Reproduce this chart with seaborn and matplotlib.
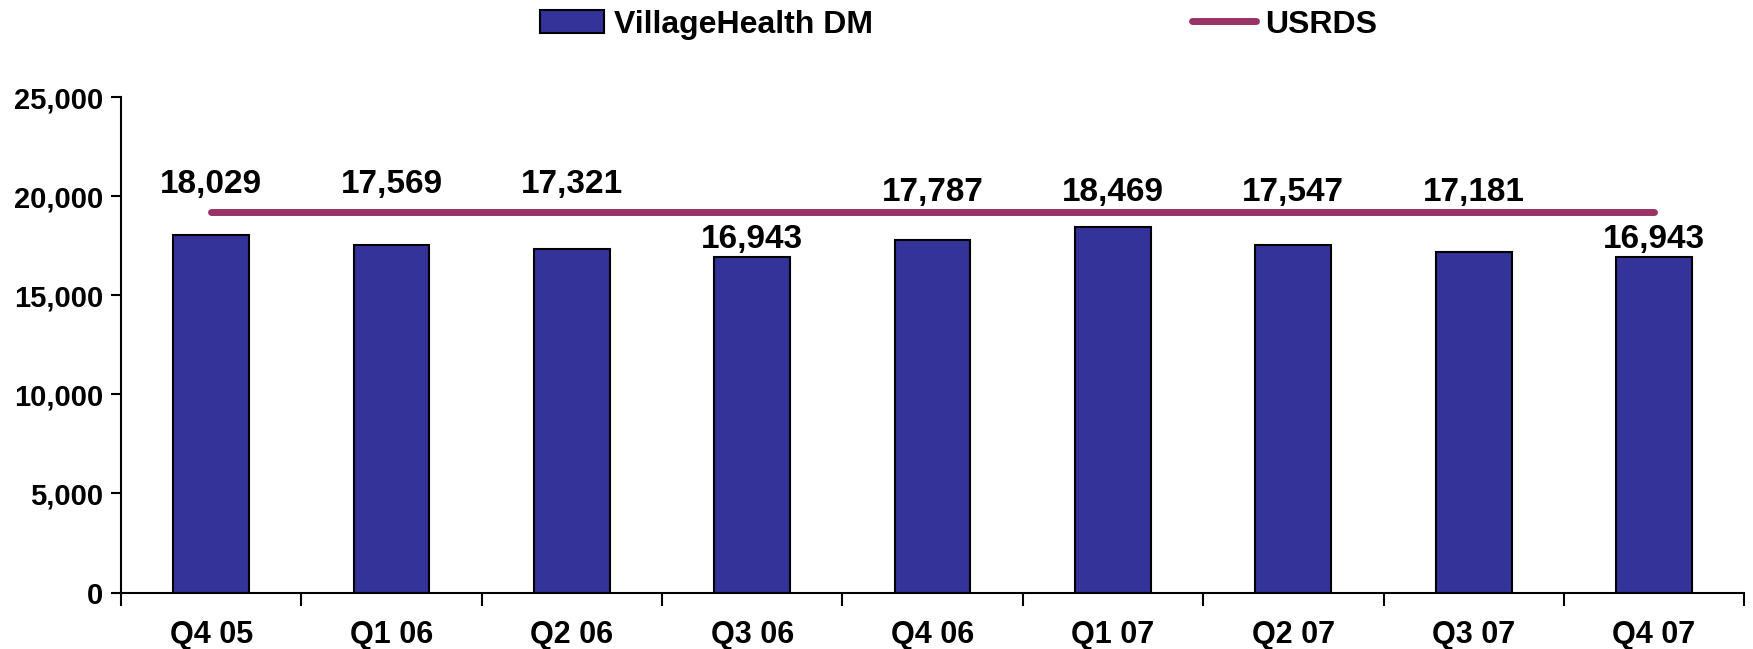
import numpy as np
import pandas as pd
import matplotlib
matplotlib.use("Agg")
import matplotlib.pyplot as plt
import seaborn as sns
from matplotlib.lines import Line2D
from matplotlib.patches import Patch

quarters = ["Q4 05", "Q1 06", "Q2 06", "Q3 06", "Q4 06", "Q1 07", "Q2 07", "Q3 07", "Q4 07"]
village_dm = [18029, 17569, 17321, 16943, 17787, 18469, 17547, 17181, 16943]
usrds = [19187, 19187, 19187, 19187, 19187, 19187, 19187, 19187, 19187]
y_ticks = [0, 5000, 10000, 15000, 20000, 25000]

bar_color = "#333399"
line_color = "#993366"

sns.set_style("white")
plt.rcParams["font.family"] = ["Liberation Sans Narrow", "Liberation Sans", "DejaVu Sans"]
plt.rcParams["font.weight"] = "bold"
plt.rcParams["text.color"] = "black"
plt.rcParams["xtick.color"] = "black"
plt.rcParams["ytick.color"] = "black"

df = pd.DataFrame({"quarter": quarters, "dm": village_dm, "usrds": usrds})

fig = plt.figure(figsize=(17.53, 6.49), dpi=100)
ax = fig.add_axes([0.069, 0.087, 0.926, 0.763])

sns.barplot(data=df, x="quarter", y="dm", color=bar_color, width=0.42,
            edgecolor="black", linewidth=1.5, saturation=1, ax=ax)
ax.plot(np.arange(len(quarters)), df["usrds"], color=line_color, lw=5,
        solid_capstyle="round", zorder=3)

# value labels: above the USRDS line when the bar is close to it, else just above the bar
for i, v in enumerate(village_dm):
    if v >= 17000:
        y = usrds[i] + (1400 if i < 3 else 1000)
    else:
        y = v + 900
    ax.text(i, y, f"{v:,}", ha="center", va="center", fontsize=24,
            fontweight="bold", color="black")

ax.set_xlim(-0.5, len(quarters) - 0.5)
ax.set_ylim(0, 25000)
ax.set_yticks(y_ticks)
ax.set_yticklabels([f"{t:,}" for t in y_ticks], fontsize=21, fontweight="bold")
ax.set_xticks(np.arange(len(quarters)))
ax.set_xticklabels(quarters, fontsize=22, fontweight="bold")
ax.set_xticks(np.arange(-0.5, len(quarters), 1), minor=True)
ax.tick_params(axis="x", which="major", bottom=True, length=0, pad=20)
ax.tick_params(axis="x", which="minor", bottom=True, length=9, width=1.5,
               direction="out", color="black")
ax.tick_params(axis="y", left=True, length=7, width=1.5, direction="out",
               color="black", pad=6)
ax.set_xlabel("")
ax.set_ylabel("")

sns.despine(ax=ax)
for s in ["left", "bottom"]:
    ax.spines[s].set_color("black")
    ax.spines[s].set_linewidth(1.5)

handles = [Patch(facecolor=bar_color, edgecolor="black", linewidth=1.5),
           Line2D([0], [0], color=line_color, lw=5, solid_capstyle="round")]
fig.legend(handles, ["VillageHealth DM", "USRDS"], loc="center", ncol=2,
           bbox_to_anchor=(0.547, 0.962), frameon=False, columnspacing=10,
           handlelength=2.0, handletextpad=0.3,
           prop={"size": 23, "weight": "bold"})

fig.savefig("out.png", dpi=100)
